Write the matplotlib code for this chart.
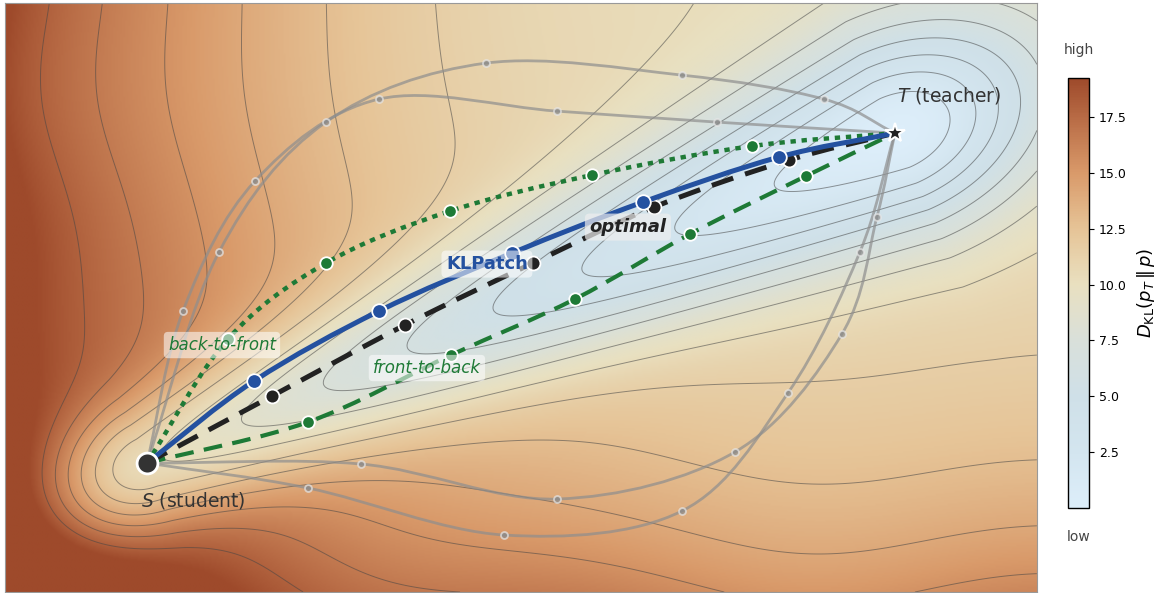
import numpy as np
import matplotlib.pyplot as plt
from matplotlib.colors import LinearSegmentedColormap
from matplotlib.path import Path
from matplotlib.patches import PathPatch

# positions of the two models in the plane
student = (1.42, 1.29)
teacher = (8.90, 4.59)

# checkpoints along each route from S to T
klpatch_pts = [(2.49, 2.11), (3.74, 2.81), (5.07, 3.39), (6.38, 3.90), (7.74, 4.35)]
optimal_pts = [(2.67, 1.96), (4.00, 2.67), (5.28, 3.29), (6.49, 3.85), (7.84, 4.32)]
back_to_front_pts = [(2.23, 2.53), (3.21, 3.29), (4.45, 3.81), (5.87, 4.17), (7.47, 4.46)]
front_to_back_pts = [(3.03, 1.70), (4.46, 2.37), (5.70, 2.93), (6.85, 3.58), (8.01, 4.16)]
other_routes_pts = [
    [(2.14, 3.40), (3.21, 4.70), (4.81, 5.29), (6.77, 5.17), (8.19, 4.93)],
    [(1.78, 2.81), (2.50, 4.11), (3.74, 4.93), (5.52, 4.81), (7.12, 4.70)],
    [(3.03, 1.04), (4.99, 0.57), (6.77, 0.81), (7.83, 1.99), (8.55, 3.40)],
    [(3.56, 1.28), (5.52, 0.93), (7.30, 1.40), (8.37, 2.58), (8.72, 3.75)],
]

# colour stops of the divergence scale
kl_stops = [0.0, 2.5, 5.0, 7.5, 10.0, 12.5, 15.0, 17.5, 19.25]
kl_colors = ["#ddeefa", "#d3e5ef", "#cfe0e8", "#d9e0da", "#e9e0c0",
             "#e6c497", "#d99a6a", "#b86b45", "#9e4a2b"]
cbar_ticks = [2.5, 5.0, 7.5, 10.0, 12.5, 15.0, 17.5]

xlim = (0.0, 10.32)
ylim = (0.0, 5.89)
vmin, vmax = kl_stops[0], kl_stops[-1]


def landscape(x, y):
    s = np.array(student)
    t = np.array(teacher)
    d = t - s
    L = np.hypot(*d)
    e = d / L
    dx, dy = x - s[0], y - s[1]
    u = dx * e[0] + dy * e[1]
    v = -dx * e[1] + dy * e[0]
    # rising walls to the left and towards the bottom
    base = 10.0 + 1.8 * np.log1p(np.exp(4.4 - x)) + 1.2 * np.exp(-x / 0.5)
    base += 5.5 * np.exp(-y / 1.8)
    base += 0.5 * np.sin(1.3 * x + 0.5) * np.exp(-y / 1.4)
    base += 0.35 * np.sin(2.2 * y) * np.exp(-x / 1.5)
    # valley running from S down to T
    r = np.clip(u / L, 0, 1)
    floor = 10.5 * (1 - r) ** 1.15
    width = 0.48 + 0.25 * r ** 2
    along = np.where(u > L, np.exp(-((u - L) / 1.6) ** 2), 1.0)
    along = np.where(u < 0, np.exp(-(u / 1.0) ** 2), along)
    g = np.exp(-0.5 * (v / width) ** 2) * along
    return base * (1 - g) + floor * g


def route_path(pts):
    # smooth curve through the checkpoints, built from cubic segments
    P = [np.array(student)] + [np.array(p) for p in pts] + [np.array(teacher)]
    ext = [2 * P[0] - P[1]] + P + [2 * P[-1] - P[-2]]
    verts = [P[0]]
    codes = [Path.MOVETO]
    for i in range(len(P) - 1):
        a, b, c, d = ext[i], ext[i + 1], ext[i + 2], ext[i + 3]
        verts += [b + (c - a) / 6, c - (d - b) / 6, c]
        codes += [Path.CURVE4] * 3
    return Path(verts, codes)


def draw_route(ax, pts, color, lw, ls, alpha, ms, mfc, mec, z):
    ax.add_patch(PathPatch(route_path(pts), fill=False, edgecolor=color, lw=lw,
                           ls=ls, alpha=alpha, zorder=z, capstyle="butt"))
    px, py = zip(*pts)
    ax.plot(px, py, "o", ms=ms, mfc=mfc, mec=mec, mew=1.3, alpha=alpha,
            zorder=z + 0.1)


cmap = LinearSegmentedColormap.from_list(
    "kl", list(zip(np.array(kl_stops) / vmax, kl_colors)))

fig = plt.figure(figsize=(11.62, 5.93), dpi=100)
ax = fig.add_axes([0.0043, 0.0017, 0.888, 0.993])
cax = fig.add_axes([0.9191, 0.1433, 0.0181, 0.7251])

gx = np.linspace(*xlim, 600)
gy = np.linspace(*ylim, 360)
X, Y = np.meshgrid(gx, gy)
Z = np.clip(landscape(X, Y), vmin, vmax)

im = ax.imshow(Z, extent=(*xlim, *ylim), origin="lower", cmap=cmap,
               vmin=vmin, vmax=vmax, aspect="auto", interpolation="bilinear")
ax.contour(X, Y, Z, levels=np.linspace(vmin, vmax, 16)[1:-1],
           colors="#454545", linewidths=0.7, alpha=0.55)

# alternative orderings in grey
for pts in other_routes_pts:
    draw_route(ax, pts, "#8e8e8e", 2.0, "-", 0.7, 5, "#8a8a8a", "#e8e8e8", 3)

draw_route(ax, front_to_back_pts, "#1e7a36", 3.0, (0, (4.5, 2.5)), 1, 9, "#1e7a36", "white", 4)
draw_route(ax, back_to_front_pts, "#1e7a36", 3.2, (0, (1.2, 1.3)), 1, 9, "#1e7a36", "white", 4)
draw_route(ax, optimal_pts, "#222222", 3.6, (0, (4.5, 2.5)), 1, 10, "#222222", "white", 5)
draw_route(ax, klpatch_pts, "#2451a0", 3.6, "-", 1, 10.5, "#2451a0", "white", 6)

ax.plot(*student, "o", ms=15, mfc="#333333", mec="white", mew=2, zorder=8)
ax.plot(*teacher, "*", ms=15, mfc="#222222", mec="white", mew=1.5, zorder=8)

ax.text(9.44, 4.97, r"$T$ (teacher)", fontsize=13.5, color="#333333",
        ha="center", va="center", zorder=9)
ax.text(1.88, 0.92, r"$S$ (student)", fontsize=13.5, color="#333333",
        ha="center", va="center", zorder=9)

box = dict(boxstyle="round,pad=0.25", fc="white", ec="none", alpha=0.55)
ax.text(4.82, 3.28, "KLPatch", fontsize=13, fontweight="bold", color="#2451a0",
        ha="center", va="center", bbox=box, zorder=9)
ax.text(6.23, 3.65, "optimal", fontsize=13, fontweight="bold", fontstyle="italic",
        color="#222222", ha="center", va="center",
        bbox=dict(boxstyle="round,pad=0.25", fc="#eeeeee", ec="none", alpha=0.7),
        zorder=9)
ax.text(2.17, 2.47, "back-to-front", fontsize=12, fontstyle="italic", color="#1e7a36",
        ha="center", va="center", bbox=box, zorder=9)
ax.text(4.22, 2.24, "front-to-back", fontsize=12, fontstyle="italic", color="#1e7a36",
        ha="center", va="center", bbox=box, zorder=9)

ax.set_xlim(*xlim)
ax.set_ylim(*ylim)
ax.set_xticks([])
ax.set_yticks([])
for sp in ax.spines.values():
    sp.set_color("#999999")
    sp.set_linewidth(0.8)

cb = fig.colorbar(im, cax=cax, ticks=cbar_ticks)
cb.ax.tick_params(labelsize=9)
cb.outline.set_linewidth(1.0)
cb.set_label(r"$D_{\mathrm{KL}}(p_T\,\|\,p)$", fontsize=13, labelpad=6)
cax.text(0.5, 1.05, "high", transform=cax.transAxes, ha="center", va="bottom",
         fontsize=10, color="#444444")
cax.text(0.5, -0.05, "low", transform=cax.transAxes, ha="center", va="top",
         fontsize=10, color="#444444")

fig.savefig("out.png", dpi=100)
